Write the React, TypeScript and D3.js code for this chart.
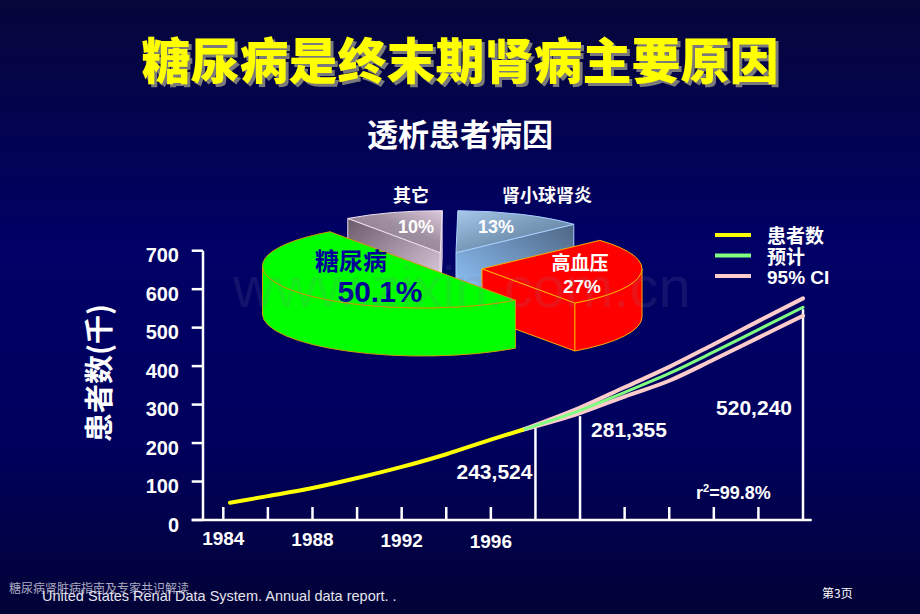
import React from 'react'
import * as d3 from 'd3'

// pie: causes of dialysis patients
const pieLabels = ['糖尿病', '其它', '肾小球肾炎', '高血压']
const pieValues = [50.1, 10, 13, 27]
const pieText = ['50.1%', '10%', '13%', '27%']

// observed patients (thousand)
const obsYears = [1984.3, 1986, 1988, 1990, 1992, 1994, 1996, 1997.4]
const obsPatients = [45, 62, 83, 109, 138, 171, 209, 234]

// projection + 95% CI
const projYears = [1997.4, 2000, 2002, 2004, 2006, 2008, 2010]
const projMid = [234, 285, 332, 381, 437, 495, 553]
const projHigh = [234, 292, 345, 398, 457, 517, 576]
const projLow = [234, 278, 321, 362, 417, 474, 531]

const annYears = [1998, 2000, 2010]
const annLabels = ['243,524', '281,355', '520,240']
const annTops = [239, 270, 548]

const xLabelYears = [1984, 1988, 1992, 1996]
const yTicks = [0, 100, 200, 300, 400, 500, 600, 700]
const legendLabels = ['患者数', '预计', '95% CI']

const W = 920
const H = 614
const SANS = "'Liberation Sans', Arial, 'Noto Sans CJK SC', sans-serif"
const CJK = "'Noto Sans CJK SC', 'Liberation Sans', sans-serif"

const x = d3.scaleLinear().domain([1984, 2010]).range([223.3, 803])
const y = d3.scaleLinear().domain([0, 700]).range([520, 250.7])

// 3d pie geometry
const RX = 160
const RY = 42
const DEPTH = 48
const pieBase = { x: 450, y: 260 }
const explode = [[-27.5, 6], [-9.7, -7.3], [6, -7.3], [32, 8.8]]
const sliceFill = ['#00ff00', 'url(#grayTop)', 'url(#blueTop)', '#ff0000']
const sliceSide = ['#00ff00', 'url(#graySide)', 'url(#blueSide)', '#ff0000']
const sliceStroke = ['#c8a000', '#eee0ee', '#a8d0ff', '#ffaa00']

function pt(c, a, dy = 0) {
  return [c.x + RX * Math.cos(a), c.y + RY * Math.sin(a) + dy]
}
function topPath(c, a0, a1) {
  const p0 = pt(c, a0), p1 = pt(c, a1)
  return `M${c.x},${c.y}L${p0}A${RX},${RY} 0 ${a1 - a0 > Math.PI ? 1 : 0} 1 ${p1}Z`
}
function wallPath(c, a0, a1) {
  const s = pt(c, a0), e = pt(c, a1), sb = pt(c, a0, DEPTH), eb = pt(c, a1, DEPTH)
  return `M${s}A${RX},${RY} 0 0 1 ${e}L${eb}A${RX},${RY} 0 0 0 ${sb}Z`
}
function facePath(c, a) {
  const p = pt(c, a), pb = pt(c, a, DEPTH)
  return `M${c.x},${c.y}L${p}L${pb}L${c.x},${c.y + DEPTH}Z`
}
function frontSegs(a0, a1) {
  const out = []
  for (let k = -1; k <= 2; k++) {
    const lo = Math.max(a0, 2 * Math.PI * k)
    const hi = Math.min(a1, 2 * Math.PI * k + Math.PI)
    if (hi > lo) out.push([lo, hi])
  }
  return out
}

const pieLabelPos = [
  { name: [351, 270, 24, '#000099'], pct: [380, 302, 30, '#000099'] },
  { name: [411, 202, 18, '#fff'], pct: [416, 233, 18, '#fff'] },
  { name: [547, 202, 18, '#fff'], pct: [496, 233, 18, '#fff'] },
  { name: [580, 270, 19, '#fff'], pct: [582, 293, 19, '#fff'] },
]

function Pie3D() {
  const arcs = d3.pie<number>().sort(null)
    .startAngle((144.5 * Math.PI) / 180)
    .endAngle((144.5 * Math.PI) / 180 + 2 * Math.PI)(pieValues)
  const slices = arcs.map((d, i) => {
    const a0 = d.startAngle - Math.PI / 2
    const a1 = d.endAngle - Math.PI / 2
    const c = { x: pieBase.x + explode[i][0], y: pieBase.y + explode[i][1] }
    return { i, a0, a1, c, mid: Math.sin((a0 + a1) / 2) }
  }).sort((a, b) => a.mid - b.mid)

  return (
    <g>
      {slices.map(s => (
        <g key={s.i} stroke={sliceStroke[s.i]} strokeWidth={1} strokeLinejoin="round">
          {-Math.cos(s.a0) > 0 && <path d={facePath(s.c, s.a0)} fill={sliceSide[s.i]} />}
          {Math.cos(s.a1) > 0 && <path d={facePath(s.c, s.a1)} fill={sliceSide[s.i]} />}
          {frontSegs(s.a0, s.a1).map(([lo, hi], k) => (
            <path key={k} d={wallPath(s.c, lo, hi)} fill={sliceSide[s.i]} />
          ))}
          <path d={topPath(s.c, s.a0, s.a1)} fill={sliceFill[s.i]} />
        </g>
      ))}
      {pieLabels.map((lab, i) => {
        const p = pieLabelPos[i]
        return (
          <g key={lab} fontWeight="bold" textAnchor="middle">
            <text x={p.name[0]} y={p.name[1]} fontSize={p.name[2]} fill={p.name[3]} fontFamily={CJK}>{lab}</text>
            <text x={p.pct[0]} y={p.pct[1]} fontSize={p.pct[2]} fill={p.pct[3]} fontFamily={SANS}>{pieText[i]}</text>
          </g>
        )
      })}
    </g>
  )
}

export default function App() {
  const line = d3.line<[number, number]>().x(d => x(d[0])).y(d => y(d[1])).curve(d3.curveMonotoneX)
  const obs = obsYears.map((yr, i) => [yr, obsPatients[i]] as [number, number])
  const mid = projYears.map((yr, i) => [yr, projMid[i]] as [number, number])
  const hi = projYears.map((yr, i) => [yr, projHigh[i]] as [number, number])
  const lo = projYears.map((yr, i) => [yr, projLow[i]] as [number, number])
  const tickYears = d3.range(1984, 2010, 2).filter(yr => !annYears.includes(yr))
  const annPlace = [
    { dx: -3, ty: 479, anchor: 'end' },
    { dx: 11, ty: 437, anchor: 'start' },
    { dx: -11, ty: 415, anchor: 'end' },
  ]
  const legendColors = ['#ffff00', '#80ff80', '#ffcccc']

  return (
    <svg width={W} height={H} style={{ position: 'absolute', left: 0, top: 0, display: 'block' }}>
      <defs>
        <linearGradient id="bg" x1="0" y1="0" x2="0" y2="1">
          <stop offset="0" stopColor="#06063a" />
          <stop offset="0.4" stopColor="#000066" />
          <stop offset="0.72" stopColor="#00005e" />
          <stop offset="1" stopColor="#020236" />
        </linearGradient>
        <linearGradient id="grayTop" x1="0" y1="1" x2="1" y2="0">
          <stop offset="0" stopColor="#857585" />
          <stop offset="0.6" stopColor="#a08fa0" />
          <stop offset="1" stopColor="#dccadc" />
        </linearGradient>
        <linearGradient id="graySide" x1="0" y1="0" x2="1" y2="1">
          <stop offset="0" stopColor="#6a5a6a" />
          <stop offset="1" stopColor="#ead8ea" />
        </linearGradient>
        <linearGradient id="blueTop" x1="0" y1="0" x2="1" y2="1">
          <stop offset="0" stopColor="#a8c8ea" />
          <stop offset="0.5" stopColor="#7898b8" />
          <stop offset="1" stopColor="#5a7898" />
        </linearGradient>
        <linearGradient id="blueSide" x1="1" y1="0" x2="0" y2="1">
          <stop offset="0" stopColor="#4e6684" />
          <stop offset="1" stopColor="#92c8ff" />
        </linearGradient>
      </defs>
      <rect width={W} height={H} fill="url(#bg)" />

      {/* title */}
      <g fontFamily={CJK} fontWeight={900} fontSize={49} textAnchor="middle">
        <text x={463} y={82} fill="#7a7a7a">糖尿病是终末期肾病主要原因</text>
        <text x={460} y={79} fill="#ffff00">糖尿病是终末期肾病主要原因</text>
      </g>
      <text x={460} y={146} fill="#fff" fontFamily={CJK} fontWeight="bold" fontSize={31} textAnchor="middle">透析患者病因</text>

      {/* axes */}
      <g stroke="#fff" strokeWidth={2.5} fill="none">
        <line x1={203} x2={203} y1={y(700)} y2={y(0)} />
        <line x1={191.7} x2={811.7} y1={y(0)} y2={y(0)} />
        {yTicks.map(t => <line key={t} x1={191.7} x2={203} y1={y(t)} y2={y(t)} />)}
        {tickYears.map(t => <line key={t} x1={x(t)} x2={x(t)} y1={y(0)} y2={y(0) - 13} />)}
        {annYears.map((t, i) => <line key={t} x1={x(t)} x2={x(t)} y1={y(0)} y2={y(annTops[i])} />)}
      </g>
      <g fill="#fff" fontFamily={SANS} fontWeight="bold" fontSize={20} textAnchor="end">
        {yTicks.map(t => <text key={t} x={179} y={y(t) + 11.5}>{t}</text>)}
      </g>
      <g fill="#fff" fontFamily={SANS} fontWeight="bold" fontSize={19} textAnchor="middle">
        {xLabelYears.map((t, i) => <text key={t} x={x(t)} y={545 + i}>{t}</text>)}
      </g>
      <text transform="translate(110,373) rotate(-90)" fill="#fff" fontFamily={CJK} fontWeight="bold" fontSize={29} textAnchor="middle">患者数(千)</text>

      {/* series */}
      <g fill="none" strokeLinecap="round">
        <path d={line(hi)} stroke="#ffcccc" strokeWidth={4} />
        <path d={line(lo)} stroke="#ffcccc" strokeWidth={4} />
        <path d={line(mid)} stroke="#80ff80" strokeWidth={3} />
        <path d={line(obs)} stroke="#ffff00" strokeWidth={4} />
      </g>

      {/* annotations */}
      <g fill="#fff" fontFamily={SANS} fontWeight="bold" fontSize={21}>
        {annLabels.map((lab, i) => (
          <text key={lab} x={x(annYears[i]) + annPlace[i].dx} y={annPlace[i].ty} textAnchor={annPlace[i].anchor}>{lab}</text>
        ))}
        <text x={696} y={499} fontSize={18}>r<tspan fontSize={11} dy={-7}>2</tspan><tspan dy={7}>=99.8%</tspan></text>
      </g>

      {/* legend */}
      <g fontFamily={SANS} fontWeight="bold" fontSize={19} fill="#fff">
        {legendLabels.map((lab, i) => (
          <g key={lab}>
            <line x1={715} x2={751} y1={235 + i * 20.5} y2={235 + i * 20.5} stroke={legendColors[i]} strokeWidth={4} />
            <text x={767} y={243 + i * 20.5}>{lab}</text>
          </g>
        ))}
      </g>

      <Pie3D />

      {/* watermark */}
      <text x={233} y={307} fontFamily={SANS} fontSize={58} fill="#8080a0" opacity={0.15}>www.zixin.com.cn</text>

      {/* footer */}
      <text x={9} y={593} fontFamily={CJK} fontSize={12} fill="#c8c8d8" opacity={0.85}>糖尿病肾脏病指南及专家共识解读</text>
      <text x={42} y={601} fontFamily={SANS} fontSize={14.5} fill="#e4e4ee">United States Renal Data System. Annual data report. .</text>
      <text x={822} y={598} fontFamily={CJK} fontSize={12} fill="#fff">第3页</text>
    </svg>
  )
}
